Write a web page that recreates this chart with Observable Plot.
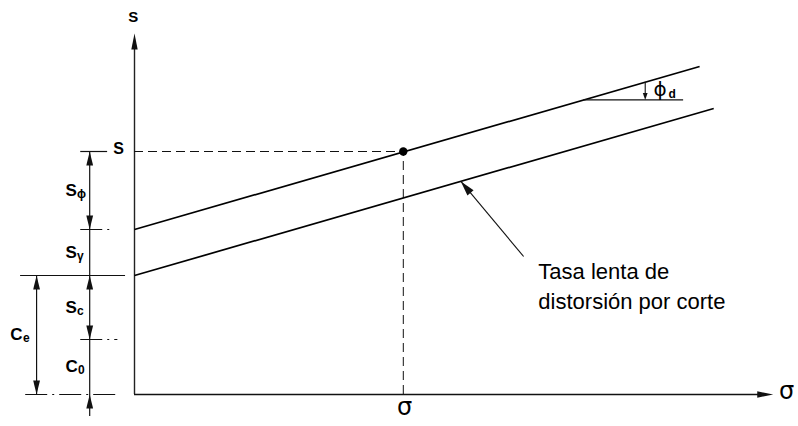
<!DOCTYPE html>
<html>
<head>
<meta charset="utf-8">
<script src="https://cdn.jsdelivr.net/npm/d3@7"></script>
<script src="https://cdn.jsdelivr.net/npm/@observablehq/plot@0.6"></script>
<style>
  body { margin: 0; background: #fff; }
  #chart svg { display: block; }
</style>
</head>
<body>
<div id="chart"></div>
<script>
// Shear strength envelopes s = c + σ·tan φd (σ and s in arbitrary units)
const lineNames  = ["envolvente", "tasa lenta"];
const lineS0     = [33, 23.8];     // intercept on the s axis
const lineSigma1 = [88.3, 90.5];   // σ at the right end of each line
const lineS1     = [65.6, 57.2];   // s at the right end of each line

// Stress state marked on the upper envelope
const pointSigma = 42;
const pointS = 48.6;

// Levels on the s axis that bound the strength components
const levelNames = ["base", "c0", "ce", "sγ", "s"];
const levelS     = [0, 11, 23.8, 33, 48.6];

// Strength components: main letter, subscript, lower and upper level, column
const compMain = ["S", "S", "S", "C", "C"];
const compSub  = ["ϕ", "γ", "c", "e", "0"];
const compLo   = ["sγ", "ce", "c0", "base", "base"];
const compHi   = ["s", "sγ", "ce", "ce", "c0"];
const compCol  = ["inner", "inner", "inner", "outer", "inner"];

// Angle annotation between the upper envelope and a horizontal
const phiSigma = [70.2, 85.8];

const noteLines = ["Tasa lenta de", "distorsión por corte"];

// ---- layout ----
const W = 798, H = 426;
const M = {top: 34, right: 24, bottom: 32, left: 134};
const xDomain = [0, 100], yDomain = [0, 72];
const kx = (W - M.left - M.right) / (xDomain[1] - xDomain[0]);
const ky = (H - M.top - M.bottom) / (yDomain[1] - yDomain[0]);
const level = name => levelS[levelNames.indexOf(name)];
const upperAt = sg => lineS0[0] + (lineS1[0] - lineS0[0]) * sg / lineSigma1[0];
const lowerAt = sg => lineS0[1] + (lineS1[1] - lineS0[1]) * sg / lineSigma1[1];
const colX = {inner: -7, outer: -15.3};
const labelX = {inner: -10.8, outer: -19.4};

// filled arrowhead with its tip at the origin, pointing up before rotation
const head = (len, half) => ({
  draw(ctx) { ctx.moveTo(0, 0); ctx.lineTo(half, len); ctx.lineTo(-half, len); ctx.closePath(); }
});
const dirAngle = {up: 0, right: 90, down: 180};
const angleTo = (from, to) =>
  Math.atan2((to.x - from.x) * kx, (to.y - from.y) * ky) * 180 / Math.PI;

const lines = lineNames.map((name, i) => ({
  name, x1: 0, y1: lineS0[i], x2: lineSigma1[i], y2: lineS1[i]
}));
const comps = compMain.map((m, i) => ({
  main: m, sub: compSub[i], col: compCol[i],
  x: labelX[compCol[i]],
  y: (level(compLo[i]) + level(compHi[i])) / 2
}));

// level ticks on the left
const tickSolid = [
  {y: level("s"), x1: -8.4, x2: -4.2},
  {y: level("ce"), x1: -17.8, x2: -1.4}
];
const tickDashed = [
  {y: level("sγ"), x1: -8.4, x2: -3.2},
  {y: level("c0"), x1: -8.4, x2: -2.6},
  {y: level("base"), x1: -17, x2: -2.6}
];

// dimension arrowheads
const dimHeads = [
  {x: colX.inner, y: level("s"), dir: "up"},
  {x: colX.inner, y: level("sγ"), dir: "down"},
  {x: colX.inner, y: level("ce"), dir: "up"},
  {x: colX.inner, y: level("c0"), dir: "down"},
  {x: colX.inner, y: level("base"), dir: "up"},
  {x: colX.outer, y: level("ce"), dir: "up"},
  {x: colX.outer, y: level("base"), dir: "down"}
].map(d => ({...d, rotate: dirAngle[d.dir]}));

const axisTop = 72.2, axisRight = 99.8;
const axisHeads = [
  {x: 0, y: axisTop, rotate: dirAngle.up},
  {x: axisRight, y: 0, rotate: dirAngle.right}
];

// leader from the note to the lower envelope
const leaderTail = {x: 60.8, y: 27.6};
const leaderTipX = 51;
const leaderTip = {x: leaderTipX, y: lowerAt(leaderTipX)};
const leaderHead = [{...leaderTip, rotate: angleTo(leaderTail, leaderTip)}];

// φd annotation
const phiY = upperAt(phiSigma[0]);
const phiArrowX = 79.8;
const phiHead = [{x: phiArrowX, y: phiY, rotate: dirAngle.down}];

const noteRows = noteLines.map((t, i) => ({text: t, x: 63.1, y: 24.6 - 6 * i}));

const chart = Plot.plot({
  width: W,
  height: H,
  marginTop: M.top, marginRight: M.right, marginBottom: M.bottom, marginLeft: M.left,
  x: {domain: xDomain, axis: null},
  y: {domain: yDomain, axis: null},
  style: {fontFamily: "'Liberation Sans', Arial, sans-serif", background: "#fff", overflow: "visible", color: "#000"},
  marks: [
    // axes
    Plot.ruleX([0], {y1: 0, y2: axisTop - 2, stroke: "#222", strokeWidth: 1.4}),
    Plot.ruleY([0], {x1: 0, x2: axisRight - 1, stroke: "#111", strokeWidth: 1.4}),
    Plot.dot(axisHeads, {x: "x", y: "y", rotate: "rotate", symbol: head(16, 3.2), fill: "#111", stroke: "none"}),

    // guides from the marked state to the axes
    Plot.ruleY([pointS], {x1: 0, x2: pointSigma, stroke: "#111", strokeWidth: 1, strokeDasharray: "9,5"}),
    Plot.ruleX([pointSigma], {y1: 0, y2: pointS, stroke: "#111", strokeWidth: 1, strokeDasharray: "9,5"}),

    // envelopes
    Plot.link(lines, {x1: "x1", y1: "y1", x2: "x2", y2: "y2", stroke: "#000", strokeWidth: 1.7}),
    Plot.dot([{x: pointSigma, y: pointS}], {x: "x", y: "y", r: 4.2, fill: "#000", stroke: "none"}),

    // level ticks and dimension lines
    Plot.ruleY(tickSolid, {y: "y", x1: "x1", x2: "x2", stroke: "#111", strokeWidth: 1.2}),
    Plot.ruleY(tickDashed, {y: "y", x1: "x1", x2: "x2", stroke: "#111", strokeWidth: 1.2, strokeDasharray: "22,5,2,5"}),
    Plot.ruleX([colX.inner], {y1: -4.4, y2: level("s"), stroke: "#111", strokeWidth: 1.2}),
    Plot.ruleX([colX.outer], {y1: level("base"), y2: level("ce"), stroke: "#111", strokeWidth: 1.2}),
    Plot.dot(dimHeads, {x: "x", y: "y", rotate: "rotate", symbol: head(14, 3.4), fill: "#111", stroke: "none"}),

    // component labels with subscripts (offset by the width of the main letter)
    Plot.text(comps, {x: "x", y: "y", text: "main", textAnchor: "start", fontSize: 17, fontWeight: "bold"}),
    Plot.text(comps.filter(d => d.main === "S"), {x: "x", y: "y", text: "sub", textAnchor: "start",
      fontSize: 12, fontWeight: "bold", dx: 11.6, dy: 3.6}),
    Plot.text(comps.filter(d => d.main === "C"), {x: "x", y: "y", text: "sub", textAnchor: "start",
      fontSize: 12, fontWeight: "bold", dx: 12.6, dy: 3.6}),

    // axis names and the marked value names
    Plot.text(["S"], {x: -0.2, y: 75.4, text: d => d, fontSize: 15, fontWeight: "bold"}),
    Plot.text(["S"], {x: -2.5, y: pointS + 0.6, text: d => d, fontSize: 16, fontWeight: "bold"}),
    Plot.text(["σ"], {x: pointSigma + 0.2, y: -2.6, text: d => d, fontSize: 24, fontFamily: "'DejaVu Sans', sans-serif"}),
    Plot.text(["σ"], {x: 101.9, y: 0.6, text: d => d, fontSize: 24, fontFamily: "'DejaVu Sans', sans-serif"}),

    // φd angle
    Plot.ruleY([phiY], {x1: phiSigma[0], x2: phiSigma[1], stroke: "#111", strokeWidth: 1.1}),
    Plot.ruleX([phiArrowX], {y1: phiY + 1, y2: upperAt(phiArrowX), stroke: "#111", strokeWidth: 1.1}),
    Plot.dot(phiHead, {x: "x", y: "y", rotate: "rotate", symbol: head(7, 2.4), fill: "#111", stroke: "none"}),
    Plot.text(["ϕ"], {x: 81.1, y: 60.9, text: d => d, textAnchor: "start", fontSize: 20, fontFamily: "'DejaVu Sans', sans-serif"}),
    Plot.text(["d"], {x: 81.1, y: 60.9, text: d => d, textAnchor: "start", fontSize: 12, dx: 15, dy: 4, fontWeight: "bold"}),

    // note with its leader
    Plot.link([{t: leaderTail, h: leaderTip}], {x1: d => d.t.x, y1: d => d.t.y, x2: d => d.h.x, y2: d => d.h.y, stroke: "#111", strokeWidth: 1.1}),
    Plot.dot(leaderHead, {x: "x", y: "y", rotate: "rotate", symbol: head(15, 4), fill: "#111", stroke: "none"}),
    Plot.text(noteRows, {x: "x", y: "y", text: "text", textAnchor: "start", fontSize: 22, ariaLabel: "nota"})
  ]
});

document.getElementById("chart").appendChild(chart);
d3.select(chart).selectAll("g[aria-label='nota'] text").style("letter-spacing", "1.2px");
</script>
</body>
</html>
